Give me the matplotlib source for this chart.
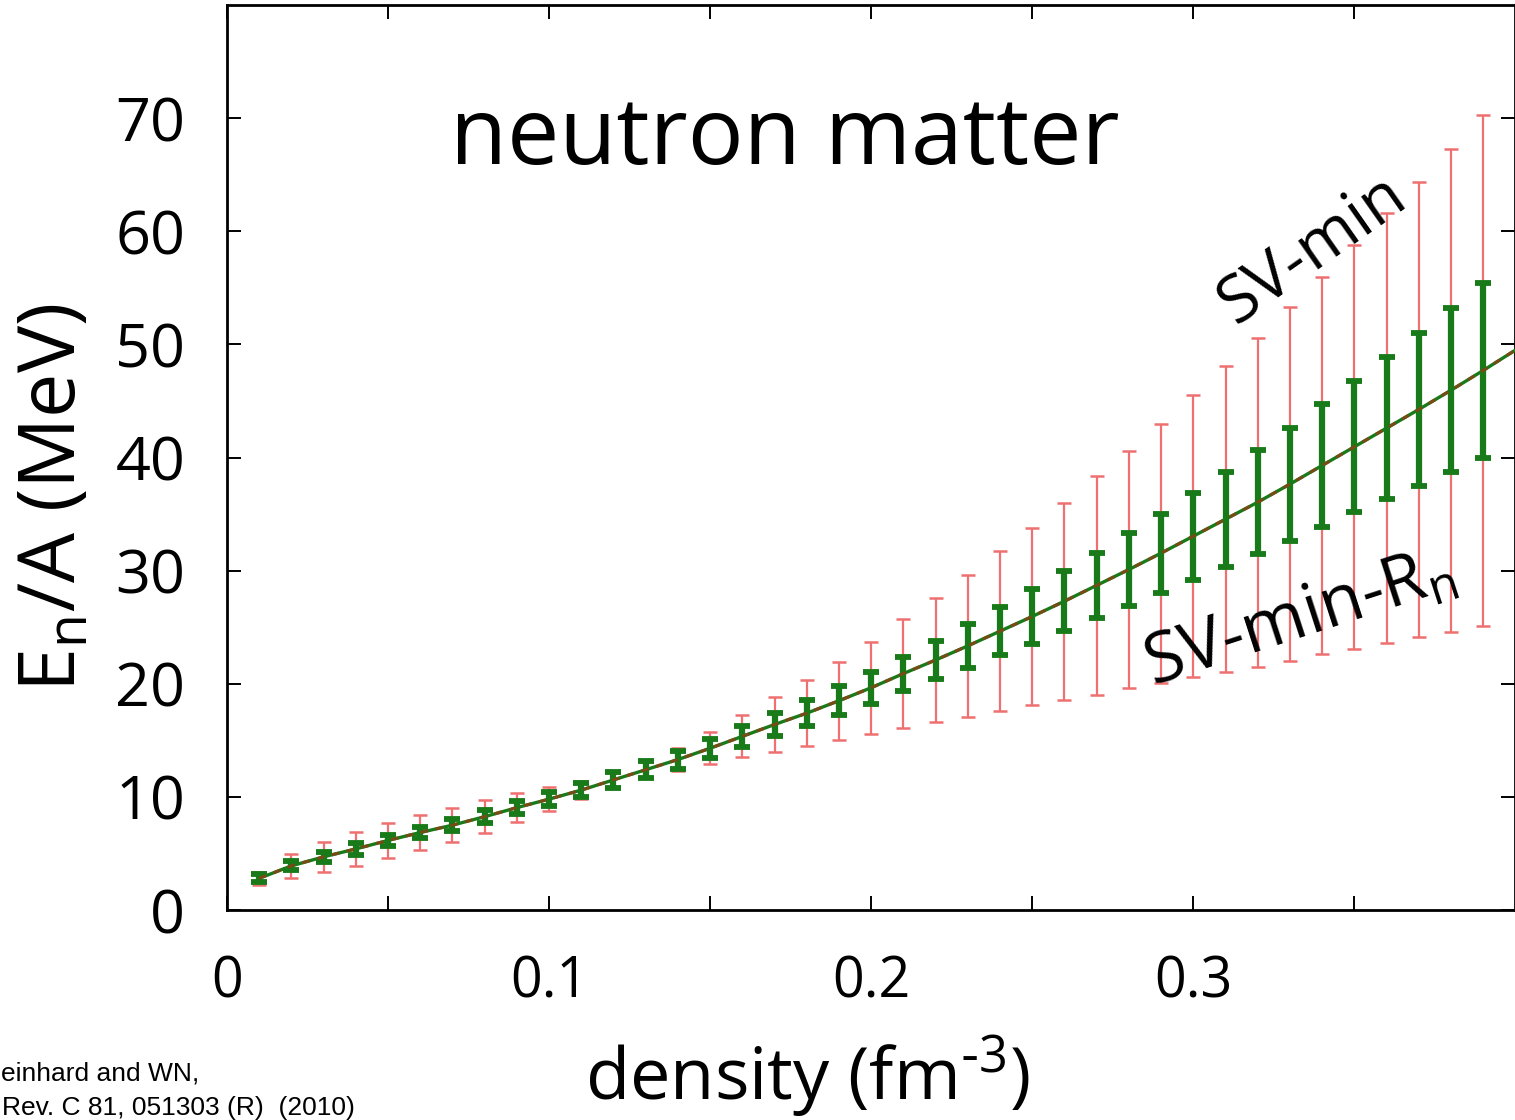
import matplotlib
matplotlib.use("Agg")
import matplotlib.pyplot as plt

plt.rcParams['font.family'] = ['Open Sans', 'DejaVu Sans']
plt.rcParams['mathtext.default'] = 'regular'

# density points (fm^-3)
density = [0.01, 0.02, 0.03, 0.04, 0.05, 0.06, 0.07, 0.08, 0.09, 0.10,
           0.11, 0.12, 0.13, 0.14, 0.15, 0.16, 0.17, 0.18, 0.19, 0.20,
           0.21, 0.22, 0.23, 0.24, 0.25, 0.26, 0.27, 0.28, 0.29, 0.30,
           0.31, 0.32, 0.33, 0.34, 0.35, 0.36, 0.37, 0.38, 0.39]

# E/A (MeV)
energy = [2.8, 3.9, 4.7, 5.4, 6.15, 6.85, 7.5, 8.25, 9.05, 9.8,
          10.6, 11.5, 12.4, 13.3, 14.3, 15.35, 16.4, 17.4, 18.5, 19.65,
          20.9, 22.1, 23.35, 24.65, 25.95, 27.3, 28.7, 30.1, 31.55, 33.05,
          34.55, 36.05, 37.65, 39.3, 40.95, 42.6, 44.25, 45.95, 47.7]

# SV-min error (half width)
err_svmin = [0.6, 1.05, 1.3, 1.5, 1.55, 1.55, 1.5, 1.45, 1.3, 1.05,
             0.8, 0.6, 0.7, 1.0, 1.4, 1.85, 2.4, 2.9, 3.45, 4.05,
             4.8, 5.5, 6.25, 7.05, 7.85, 8.7, 9.7, 10.5, 11.45, 12.45,
             13.5, 14.55, 15.65, 16.7, 17.85, 19.0, 20.15, 21.35, 22.6]

# SV-min-Rn error (half width)
err_rn = [0.35, 0.4, 0.45, 0.5, 0.5, 0.5, 0.55, 0.55, 0.6, 0.6,
          0.65, 0.7, 0.75, 0.8, 0.85, 0.95, 1.05, 1.15, 1.3, 1.4,
          1.5, 1.7, 1.95, 2.15, 2.4, 2.65, 2.9, 3.25, 3.5, 3.85,
          4.2, 4.6, 5.0, 5.4, 5.8, 6.25, 6.8, 7.25, 7.75]

# curve runs to the frame edge
curve_density = density + [0.40]
curve_energy = energy + [49.5]

fig = plt.figure(figsize=(15.15, 11.2), dpi=100)
ax = fig.add_axes([0.1498, 0.1875, 0.8505, 0.808])

ax.errorbar(density, energy, yerr=err_svmin, fmt='none', ecolor='#ef7070',
            elinewidth=1.6, capsize=5, capthick=1.8, zorder=2)
ax.errorbar(density, energy, yerr=err_rn, fmt='none', ecolor='#187a18',
            elinewidth=4.5, capsize=5.5, capthick=4.2, zorder=3)
ax.plot(curve_density, curve_energy, color='#187a18', lw=2.4, zorder=4)
ax.plot(curve_density, curve_energy, color='#7a4a16', lw=2.2,
        dashes=(2.5, 2.5), zorder=5)

ax.set_xlim(0, 0.4)
ax.set_ylim(0, 80)
ax.set_xticks([0, 0.05, 0.1, 0.15, 0.2, 0.25, 0.3, 0.35])
ax.set_xticklabels(['0', '', '0.1', '', '0.2', '', '0.3', ''])
ax.set_yticks([0, 10, 20, 30, 40, 50, 60, 70])
ax.tick_params(direction='in', length=10, width=1.4, top=True, right=True)
ax.tick_params(axis='x', labelsize=40, pad=32)
ax.tick_params(axis='y', labelsize=44, pad=30)
for s in ax.spines.values():
    s.set_linewidth(2)

ax.text(0.337, 58.4, 'SV-min', fontsize=47, rotation=35,
        rotation_mode='anchor', ha='center', va='center')
ax.text(0.333, 25.6, 'SV-min-R$_n$', fontsize=50, rotation=18,
        rotation_mode='anchor', ha='center', va='center')

fig.text(0.518, 0.854, 'neutron matter', fontsize=67, ha='center', va='baseline')
fig.text(0.036, 0.556, 'E$_n$/A (MeV)', fontsize=57, rotation=90,
         ha='center', va='center')
fig.text(0.533, 0.018, 'density (fm$^{\\text{-}3}$)', fontsize=52, ha='center', va='baseline')

fig.text(1 / 1515, 1 - 1080 / 1120, 'einhard and WN,', fontsize=19,
         family=['Liberation Sans Narrow', 'Liberation Sans'], ha='left', va='baseline')
fig.text(2 / 1515, 1 - 1115 / 1120, 'Rev. C 81, 051303 (R)  (2010)', fontsize=19,
         family=['Liberation Sans Narrow', 'Liberation Sans'], ha='left', va='baseline')

fig.savefig('out.png', dpi=100)
